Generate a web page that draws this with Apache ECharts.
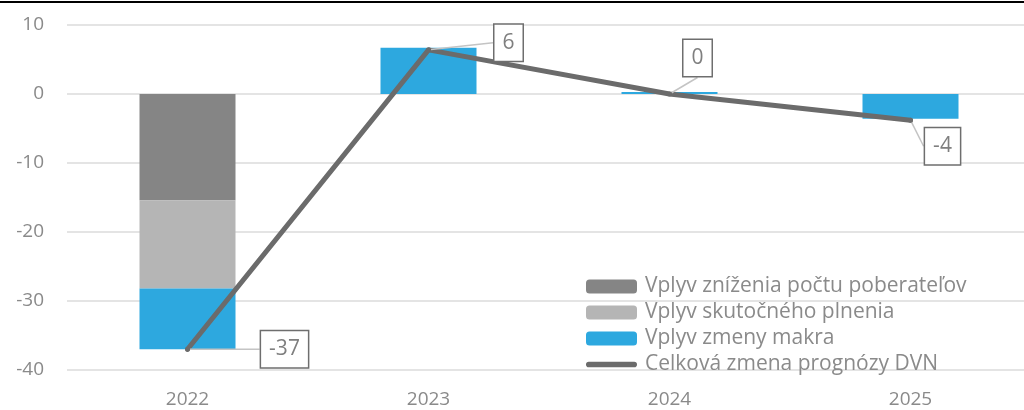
<!DOCTYPE html>
<html>
<head>
<meta charset="utf-8">
<script src="https://cdn.jsdelivr.net/npm/echarts@6/dist/echarts.min.js"></script>
<style>
  html, body { margin: 0; padding: 0; background: #fff; overflow: hidden; }
  #box { width: 1040px; height: 410px; }
</style>
</head>
<body>
<div id="box"></div>
<script>
const categories = ['2022', '2023', '2024', '2025']
const poberatelia = [-15.4, 0, 0, 0]
const plnenie = [-12.8, 0, 0, 0]
const makro = [-8.8, 6.7, 0.3, -3.6]
const celkova = [-37.0, 6.4, 0.0, -3.8]
// posun popisov od bodu (dx, dy)
const labelShift = [[97, 0], [80, -7], [28, -36], [32, 26]]

const font = '"Open Sans", "Noto Sans", sans-serif'
const textGray = '#8a8a8a'

const chart = echarts.init(document.getElementById('box'))
chart.setOption({
  animation: false,
  textStyle: { fontFamily: font },
  graphic: [{
    type: 'line',
    shape: { x1: 0, y1: 2, x2: 1040, y2: 2 },
    style: { stroke: '#000', lineWidth: 2 }
  }],
  grid: { left: 67, top: 25, width: 964, height: 345 },
  legend: {
    orient: 'vertical',
    left: 586,
    top: 276,
    padding: 0,
    itemWidth: 51,
    itemHeight: 14,
    itemGap: 5,
    textStyle: { color: textGray, fontSize: 21, fontFamily: font, lineHeight: 21, padding: [0, 0, 0, 3] },
    data: [
      'Vplyv zníženia počtu poberateľov',
      'Vplyv skutočného plnenia',
      'Vplyv zmeny makra',
      { name: 'Celková zmena prognózy DVN', icon: 'path://M2,4 L98,4 A6,6 0 0 1 98,16 L2,16 A6,6 0 0 1 2,4 Z' }
    ]
  },
  xAxis: {
    type: 'category',
    data: categories,
    axisLine: { show: false },
    axisTick: { show: false },
    axisLabel: { color: textGray, fontSize: 19, margin: 20 }
  },
  yAxis: {
    type: 'value',
    min: -40,
    max: 10,
    interval: 10,
    axisLine: { show: false },
    axisTick: { show: false },
    axisLabel: { color: textGray, fontSize: 19, margin: 23 },
    splitLine: { lineStyle: { color: '#e4e4e4', width: 2 } }
  },
  series: [
    {
      name: 'Vplyv zníženia počtu poberateľov',
      type: 'bar',
      stack: 'dvn',
      barWidth: 96,
      itemStyle: { color: '#858585' },
      data: poberatelia
    },
    {
      name: 'Vplyv skutočného plnenia',
      type: 'bar',
      stack: 'dvn',
      itemStyle: { color: '#b5b5b5' },
      data: plnenie
    },
    {
      name: 'Vplyv zmeny makra',
      type: 'bar',
      stack: 'dvn',
      itemStyle: { color: '#2da8df' },
      data: makro
    },
    {
      name: 'Celková zmena prognózy DVN',
      type: 'line',
      symbol: 'circle',
      symbolSize: 5,
      lineStyle: { color: '#6b6b6b', width: 5, cap: 'round' },
      itemStyle: { color: '#6b6b6b' },
      z: 5,
      data: celkova,
      label: {
        show: true,
        position: 'inside',
        formatter: p => String(Math.round(p.value)).replace('-0', '0'),
        color: '#7f7f7f',
        fontSize: 21,
        lineHeight: 21,
        backgroundColor: '#fff',
        borderColor: '#6e6e6e',
        borderWidth: 1.5,
        padding: [8, 8, 7, 8]
      },
      labelLine: {
        show: true,
        lineStyle: { color: '#c4c4c4', width: 1.5 }
      },
      labelLayout: p => ({ dx: labelShift[p.dataIndex][0], dy: labelShift[p.dataIndex][1] })
    }
  ]
})
</script>
</body>
</html>
